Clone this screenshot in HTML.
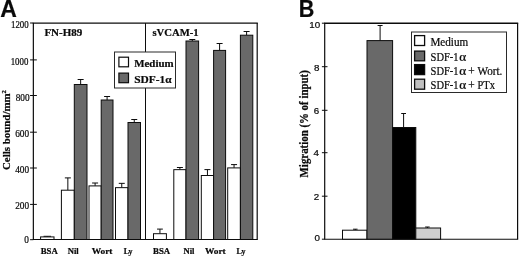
<!DOCTYPE html>
<html><head><meta charset="utf-8">
<style>
html,body{margin:0;padding:0;background:#fff;}
body{width:520px;height:256px;overflow:hidden;}
svg{display:block;will-change:transform;}
text{font-family:"Liberation Serif",serif;fill:#0a0a0a;stroke:#0a0a0a;stroke-width:0.22px;}
.sans{font-family:"Liberation Sans",sans-serif;}
.b{font-weight:bold;}
</style></head><body>
<svg width="520" height="256" viewBox="0 0 520 256">
<rect width="520" height="256" fill="#fff"/>
<text class="sans b" x="0.2" y="16.8" font-size="23.4" textLength="16.6" lengthAdjust="spacingAndGlyphs" fill="#000" stroke="#000" stroke-width="0.5">A</text>
<text class="sans b" x="298.8" y="16.8" font-size="23.4" textLength="15.6" lengthAdjust="spacingAndGlyphs" fill="#000" stroke="#000" stroke-width="0.5">B</text>
<line x1="32.75" y1="23.10" x2="257.80" y2="23.10" stroke="#0c0c0c" stroke-width="1.35"/>
<line x1="32.80" y1="239.50" x2="257.75" y2="239.50" stroke="#0c0c0c" stroke-width="1.1"/>
<line x1="33.35" y1="23.10" x2="33.35" y2="239.50" stroke="#0c0c0c" stroke-width="1.2"/>
<line x1="257.20" y1="23.10" x2="257.20" y2="239.50" stroke="#0c0c0c" stroke-width="1.2"/>
<line x1="30.05" y1="23.00" x2="33.35" y2="23.00" stroke="#0c0c0c" stroke-width="1.0"/>
<text x="11.00" y="28.20" font-size="10.3" stroke-width="0.1" textLength="17.70" lengthAdjust="spacingAndGlyphs">1200</text>
<line x1="30.05" y1="59.90" x2="36.85" y2="59.90" stroke="#0c0c0c" stroke-width="1.0"/>
<text x="10.70" y="64.90" font-size="10.3" stroke-width="0.1" textLength="17.70" lengthAdjust="spacingAndGlyphs">1000</text>
<line x1="30.05" y1="95.50" x2="36.85" y2="95.50" stroke="#0c0c0c" stroke-width="1.0"/>
<text x="15.65" y="100.90" font-size="10.3" stroke-width="0.1" textLength="13.95" lengthAdjust="spacingAndGlyphs">800</text>
<line x1="30.05" y1="132.20" x2="36.85" y2="132.20" stroke="#0c0c0c" stroke-width="1.0"/>
<text x="15.15" y="137.30" font-size="10.3" stroke-width="0.1" textLength="13.95" lengthAdjust="spacingAndGlyphs">600</text>
<line x1="30.05" y1="168.00" x2="36.85" y2="168.00" stroke="#0c0c0c" stroke-width="1.0"/>
<text x="15.15" y="173.10" font-size="10.3" stroke-width="0.1" textLength="13.95" lengthAdjust="spacingAndGlyphs">400</text>
<line x1="30.05" y1="204.40" x2="36.85" y2="204.40" stroke="#0c0c0c" stroke-width="1.0"/>
<text x="15.15" y="209.40" font-size="10.3" stroke-width="0.1" textLength="13.95" lengthAdjust="spacingAndGlyphs">200</text>
<line x1="30.05" y1="239.70" x2="33.35" y2="239.70" stroke="#0c0c0c" stroke-width="1.0"/>
<text x="24.25" y="243.10" font-size="10.3" stroke-width="0.1" textLength="4.65" lengthAdjust="spacingAndGlyphs">0</text>
<line x1="145.50" y1="23.10" x2="145.50" y2="239.50" stroke="#0c0c0c" stroke-width="1.0"/>
<text class="b" font-size="11" transform="translate(9.6,170) rotate(-90)" textLength="80" lengthAdjust="spacingAndGlyphs">Cells bound/mm<tspan font-size="6.8" dy="-3.3">2</tspan></text>
<text class="b" x="44.4" y="36.2" font-size="11">FN-H89</text>
<text class="b" x="152.4" y="36.2" font-size="11" textLength="46.3" lengthAdjust="spacingAndGlyphs">sVCAM-1</text>
<line x1="47.30" y1="236.90" x2="47.30" y2="236.30" stroke="#0c0c0c" stroke-width="1.0"/>
<line x1="43.55" y1="236.30" x2="51.05" y2="236.30" stroke="#0c0c0c" stroke-width="1.0"/>
<rect x="40.60" y="236.90" width="13.40" height="2.60" fill="#fff" stroke="#0c0c0c" stroke-width="1.0"/>
<line x1="67.85" y1="190.20" x2="67.85" y2="177.90" stroke="#0c0c0c" stroke-width="1.0"/>
<line x1="64.85" y1="177.90" x2="70.85" y2="177.90" stroke="#0c0c0c" stroke-width="1.0"/>
<rect x="61.40" y="190.20" width="12.90" height="49.30" fill="#fff" stroke="#0c0c0c" stroke-width="1.0"/>
<line x1="80.65" y1="84.50" x2="80.65" y2="79.50" stroke="#0c0c0c" stroke-width="1.0"/>
<line x1="77.65" y1="79.50" x2="83.65" y2="79.50" stroke="#0c0c0c" stroke-width="1.0"/>
<rect x="74.30" y="84.50" width="12.70" height="155.00" fill="#696969" stroke="#0c0c0c" stroke-width="1.0"/>
<line x1="95.10" y1="185.90" x2="95.10" y2="183.00" stroke="#0c0c0c" stroke-width="1.0"/>
<line x1="92.10" y1="183.00" x2="98.10" y2="183.00" stroke="#0c0c0c" stroke-width="1.0"/>
<rect x="89.00" y="185.90" width="12.20" height="53.60" fill="#fff" stroke="#0c0c0c" stroke-width="1.0"/>
<line x1="107.10" y1="100.00" x2="107.10" y2="96.50" stroke="#0c0c0c" stroke-width="1.0"/>
<line x1="104.10" y1="96.50" x2="110.10" y2="96.50" stroke="#0c0c0c" stroke-width="1.0"/>
<rect x="101.20" y="100.00" width="11.80" height="139.50" fill="#696969" stroke="#0c0c0c" stroke-width="1.0"/>
<line x1="121.75" y1="187.65" x2="121.75" y2="183.35" stroke="#0c0c0c" stroke-width="1.0"/>
<line x1="118.75" y1="183.35" x2="124.75" y2="183.35" stroke="#0c0c0c" stroke-width="1.0"/>
<rect x="115.50" y="187.65" width="12.50" height="51.85" fill="#fff" stroke="#0c0c0c" stroke-width="1.0"/>
<line x1="134.25" y1="122.50" x2="134.25" y2="119.50" stroke="#0c0c0c" stroke-width="1.0"/>
<line x1="131.25" y1="119.50" x2="137.25" y2="119.50" stroke="#0c0c0c" stroke-width="1.0"/>
<rect x="128.00" y="122.50" width="12.50" height="117.00" fill="#696969" stroke="#0c0c0c" stroke-width="1.0"/>
<line x1="159.95" y1="233.70" x2="159.95" y2="229.10" stroke="#0c0c0c" stroke-width="1.0"/>
<line x1="157.05" y1="229.10" x2="162.85" y2="229.10" stroke="#0c0c0c" stroke-width="1.0"/>
<rect x="153.50" y="233.70" width="12.90" height="5.80" fill="#fff" stroke="#0c0c0c" stroke-width="1.0"/>
<line x1="179.90" y1="169.65" x2="179.90" y2="167.50" stroke="#0c0c0c" stroke-width="1.0"/>
<line x1="176.90" y1="167.50" x2="182.90" y2="167.50" stroke="#0c0c0c" stroke-width="1.0"/>
<rect x="173.80" y="169.65" width="12.20" height="69.85" fill="#fff" stroke="#0c0c0c" stroke-width="1.0"/>
<line x1="192.30" y1="41.00" x2="192.30" y2="39.50" stroke="#0c0c0c" stroke-width="1.0"/>
<line x1="189.30" y1="39.50" x2="195.30" y2="39.50" stroke="#0c0c0c" stroke-width="1.0"/>
<rect x="186.00" y="41.00" width="12.60" height="198.50" fill="#696969" stroke="#0c0c0c" stroke-width="1.0"/>
<line x1="207.45" y1="175.50" x2="207.45" y2="169.60" stroke="#0c0c0c" stroke-width="1.0"/>
<line x1="204.45" y1="169.60" x2="210.45" y2="169.60" stroke="#0c0c0c" stroke-width="1.0"/>
<rect x="201.30" y="175.50" width="12.30" height="64.00" fill="#fff" stroke="#0c0c0c" stroke-width="1.0"/>
<line x1="219.60" y1="50.40" x2="219.60" y2="43.50" stroke="#0c0c0c" stroke-width="1.0"/>
<line x1="216.60" y1="43.50" x2="222.60" y2="43.50" stroke="#0c0c0c" stroke-width="1.0"/>
<rect x="213.60" y="50.40" width="12.00" height="189.10" fill="#696969" stroke="#0c0c0c" stroke-width="1.0"/>
<line x1="234.05" y1="167.90" x2="234.05" y2="164.60" stroke="#0c0c0c" stroke-width="1.0"/>
<line x1="231.05" y1="164.60" x2="237.05" y2="164.60" stroke="#0c0c0c" stroke-width="1.0"/>
<rect x="227.70" y="167.90" width="12.70" height="71.60" fill="#fff" stroke="#0c0c0c" stroke-width="1.0"/>
<line x1="246.60" y1="35.20" x2="246.60" y2="31.50" stroke="#0c0c0c" stroke-width="1.0"/>
<line x1="243.60" y1="31.50" x2="249.60" y2="31.50" stroke="#0c0c0c" stroke-width="1.0"/>
<rect x="240.40" y="35.20" width="12.40" height="204.30" fill="#696969" stroke="#0c0c0c" stroke-width="1.0"/>
<text class="b" x="40.70" y="253.5" font-size="8.8" stroke-width="0.4" textLength="17.06" lengthAdjust="spacingAndGlyphs">BSA</text>
<text class="b" x="67.70" y="253.5" font-size="8.8" stroke-width="0.4" textLength="11.02" lengthAdjust="spacingAndGlyphs">Nil</text>
<text class="b" x="91.70" y="253.5" font-size="8.8" stroke-width="0.4" textLength="20.80" lengthAdjust="spacingAndGlyphs">Wort</text>
<text class="b" x="123.70" y="253.5" font-size="8.8" stroke-width="0.4" textLength="8.94" lengthAdjust="spacingAndGlyphs">Ly</text>
<text class="b" x="153.10" y="253.5" font-size="8.8" stroke-width="0.4" textLength="17.06" lengthAdjust="spacingAndGlyphs">BSA</text>
<text class="b" x="183.50" y="253.5" font-size="8.8" stroke-width="0.4" textLength="11.02" lengthAdjust="spacingAndGlyphs">Nil</text>
<text class="b" x="204.90" y="253.5" font-size="8.8" stroke-width="0.4" textLength="20.80" lengthAdjust="spacingAndGlyphs">Wort</text>
<text class="b" x="236.50" y="253.5" font-size="8.8" stroke-width="0.4" textLength="8.94" lengthAdjust="spacingAndGlyphs">Ly</text>
<rect x="114.50" y="52.00" width="61.00" height="36.00" fill="#fff" stroke="#2a2a2a" stroke-width="1.0"/>
<rect x="118.90" y="57.20" width="9.60" height="9.60" fill="#fff" stroke="#0c0c0c" stroke-width="1.2"/>
<rect x="118.90" y="73.10" width="9.60" height="9.60" fill="#696969" stroke="#0c0c0c" stroke-width="1.2"/>
<text class="b" x="134.2" y="67.0" font-size="11.4" textLength="39.4" lengthAdjust="spacingAndGlyphs">Medium</text>
<text class="b" x="134.2" y="82.7" font-size="11.4">SDF-1α</text>
<line x1="324.10" y1="23.20" x2="518.20" y2="23.20" stroke="#0c0c0c" stroke-width="1.35"/>
<line x1="324.15" y1="239.20" x2="518.15" y2="239.20" stroke="#0c0c0c" stroke-width="1.1"/>
<line x1="324.70" y1="23.20" x2="324.70" y2="239.20" stroke="#0c0c0c" stroke-width="1.2"/>
<line x1="517.60" y1="23.20" x2="517.60" y2="239.20" stroke="#0c0c0c" stroke-width="1.2"/>
<line x1="321.90" y1="23.20" x2="324.70" y2="23.20" stroke="#0c0c0c" stroke-width="1.0"/>
<text class="sans" x="309.20" y="27.50" font-size="9.7" stroke-width="0.12" textLength="10.90" lengthAdjust="spacingAndGlyphs">10</text>
<line x1="321.90" y1="66.70" x2="327.50" y2="66.70" stroke="#0c0c0c" stroke-width="1.0"/>
<text class="sans" x="313.95" y="71.10" font-size="9.7" stroke-width="0.12" textLength="5.45" lengthAdjust="spacingAndGlyphs">8</text>
<line x1="321.90" y1="110.30" x2="327.50" y2="110.30" stroke="#0c0c0c" stroke-width="1.0"/>
<text class="sans" x="313.75" y="113.70" font-size="9.7" stroke-width="0.12" textLength="5.45" lengthAdjust="spacingAndGlyphs">6</text>
<line x1="321.90" y1="152.70" x2="327.50" y2="152.70" stroke="#0c0c0c" stroke-width="1.0"/>
<text class="sans" x="313.55" y="156.00" font-size="9.7" stroke-width="0.12" textLength="5.45" lengthAdjust="spacingAndGlyphs">4</text>
<line x1="321.90" y1="196.20" x2="327.50" y2="196.20" stroke="#0c0c0c" stroke-width="1.0"/>
<text class="sans" x="313.75" y="199.80" font-size="9.7" stroke-width="0.12" textLength="5.45" lengthAdjust="spacingAndGlyphs">2</text>
<line x1="321.90" y1="239.20" x2="324.70" y2="239.20" stroke="#0c0c0c" stroke-width="1.0"/>
<text class="sans" x="314.45" y="240.80" font-size="9.7" stroke-width="0.12" textLength="5.45" lengthAdjust="spacingAndGlyphs">0</text>
<text class="b" font-size="11.5" transform="translate(307.8,177.4) rotate(-90)" textLength="107.2" lengthAdjust="spacingAndGlyphs">Migration (% of input)</text>
<line x1="355.30" y1="230.20" x2="355.30" y2="229.20" stroke="#0c0c0c" stroke-width="1.0"/>
<line x1="353.05" y1="229.20" x2="357.55" y2="229.20" stroke="#0c0c0c" stroke-width="1.0"/>
<rect x="342.50" y="230.20" width="24.50" height="9.00" fill="#fff" stroke="#0c0c0c" stroke-width="1.0"/>
<line x1="380.10" y1="40.60" x2="380.10" y2="25.50" stroke="#0c0c0c" stroke-width="1.0"/>
<line x1="377.60" y1="25.50" x2="382.60" y2="25.50" stroke="#0c0c0c" stroke-width="1.0"/>
<rect x="367.00" y="40.60" width="25.60" height="198.60" fill="#696969" stroke="#0c0c0c" stroke-width="1.0"/>
<line x1="403.60" y1="127.50" x2="403.60" y2="113.50" stroke="#0c0c0c" stroke-width="1.0"/>
<line x1="401.20" y1="113.50" x2="406.00" y2="113.50" stroke="#0c0c0c" stroke-width="1.0"/>
<rect x="392.60" y="127.50" width="23.20" height="111.70" fill="#000" stroke="#0c0c0c" stroke-width="1.0"/>
<line x1="427.40" y1="228.00" x2="427.40" y2="227.00" stroke="#0c0c0c" stroke-width="1.0"/>
<line x1="425.15" y1="227.00" x2="429.65" y2="227.00" stroke="#0c0c0c" stroke-width="1.0"/>
<rect x="415.80" y="228.00" width="24.80" height="11.20" fill="#cfcfcf" stroke="#0c0c0c" stroke-width="1.0"/>
<rect x="411.50" y="32.00" width="95.00" height="60.50" fill="#fff" stroke="#2a2a2a" stroke-width="1.0"/>
<rect x="414.60" y="35.60" width="10.00" height="9.90" fill="#fff" stroke="#0c0c0c" stroke-width="1.3"/>
<rect x="414.60" y="51.10" width="10.00" height="9.70" fill="#696969" stroke="#0c0c0c" stroke-width="1.3"/>
<rect x="414.60" y="64.60" width="10.00" height="10.00" fill="#000" stroke="#0c0c0c" stroke-width="1.3"/>
<rect x="414.60" y="79.20" width="10.00" height="10.00" fill="#c0c0c0" stroke="#0c0c0c" stroke-width="1.3"/>
<text x="430.4" y="46.4" font-size="11.7" textLength="37.8" lengthAdjust="spacingAndGlyphs">Medium</text>
<text x="430.6" y="61.1" font-size="11.7" textLength="28.0" lengthAdjust="spacingAndGlyphs">SDF-1</text>
<text x="459.3" y="61.1" font-size="11.7" textLength="7.0" lengthAdjust="spacingAndGlyphs">α</text>
<text x="430.6" y="75.0" font-size="11.7" textLength="28.0" lengthAdjust="spacingAndGlyphs">SDF-1</text>
<text x="459.3" y="75.0" font-size="11.7" textLength="7.0" lengthAdjust="spacingAndGlyphs">α</text>
<text x="430.6" y="89.3" font-size="11.7" textLength="28.0" lengthAdjust="spacingAndGlyphs">SDF-1</text>
<text x="459.3" y="89.3" font-size="11.7" textLength="7.0" lengthAdjust="spacingAndGlyphs">α</text>
<text x="468.2" y="75.0" font-size="11.7" textLength="6.4" lengthAdjust="spacingAndGlyphs">+</text>
<text x="477.5" y="75.0" font-size="11.7" textLength="24.8" lengthAdjust="spacingAndGlyphs">Wort.</text>
<text x="468.2" y="89.3" font-size="11.7" textLength="6.4" lengthAdjust="spacingAndGlyphs">+</text>
<text x="477.5" y="89.3" font-size="11.7" textLength="17.4" lengthAdjust="spacingAndGlyphs">PTx</text>
</svg>
</body></html>
